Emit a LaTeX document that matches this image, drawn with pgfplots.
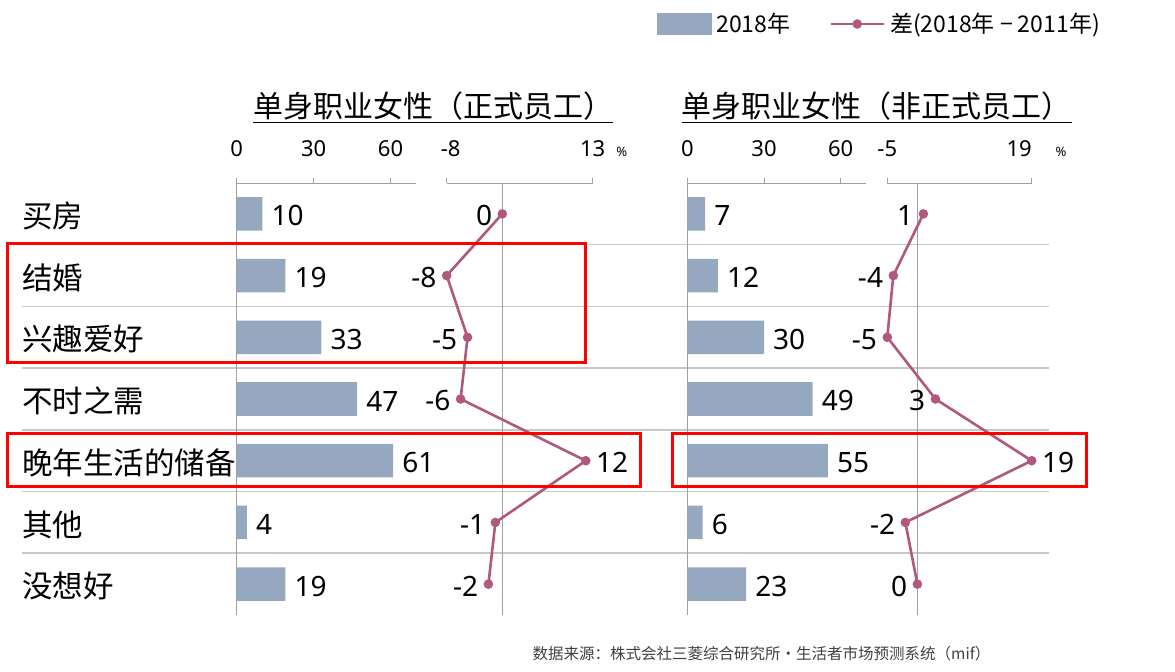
\documentclass[border=0pt]{standalone}
\usepackage{fontspec}
\setmainfont{Noto Sans CJK SC}
\newfontfamily\numfont{Noto Sans}
\usepackage{pgfplots}
\pgfplotsset{compat=1.18}

\definecolor{barcol}{RGB}{150,168,192}
\definecolor{linecol}{RGB}{176,88,125}
\definecolor{axisgray}{RGB}{160,160,160}
\definecolor{sepgray}{RGB}{200,200,200}
\definecolor{srcgray}{RGB}{64,64,64}

\newcommand\fs[1]{\fontsize{#1bp}{#1bp}\selectfont}

% filled dot of fixed radius
\pgfdeclareplotmark{bigdot}{\pgfpathcircle{\pgfpointorigin}{4.8bp}\pgfusepathqfill}

\pgfplotsset{
  panel/.style={
    scale only axis, height=432bp, ymin=0.5, ymax=7.5, clip=false,
    axis x line*=top, tick align=outside, major tick length=5bp,
    axis line style={axisgray, line width=0.8bp},
    xtick style={axisgray, line width=0.8bp},
    ytick style={draw=none},
    xticklabel style={font=\numfont\fs{22}, text=black, anchor=base, yshift=21.3bp},
    /pgf/number format/assume math mode=true,
    point meta=x,
    nodes near coords={\pgfmathprintnumber{\pgfplotspointmeta}},
    every node near coord/.append style={font=\numfont\fs{28}, text=black,
      inner xsep=9bp, inner ysep=0pt, yshift=-2bp},
  },
  bars/.style={panel, xmin=0, xmax=70, width=179.5bp,
    xtick={0,30,60}, xticklabels={0,30,60}, axis y line*=left,
    every node near coord/.append style={anchor=west}},
  diffs/.style={panel, axis y line*=middle, ytick=\empty},
  barplot/.style={xbar, bar width=33.5bp, fill=barcol, draw=none},
  diffplot/.style={color=linecol, line width=2.6bp, mark=bigdot,
    visualization depends on={value \thisrow{anc}\as\anc},
    every node near coord/.append style={anchor=\anc}},
  difflegend/.style={legend image code/.code={%
    \draw[mark repeat=2, mark phase=2, ##1] plot coordinates {(0bp,0bp) (26.5bp,0bp) (53bp,0bp)};}},
  barlegend/.style={legend image code/.code={%
    \fill[barcol] (0bp,-10.5bp) rectangle (54bp,10.5bp);}},
}

\begin{document}
\begin{tikzpicture}
\useasboundingbox (0bp,0bp) rectangle (1175bp,672bp);

% row separators
\foreach \yy in {427.3,365.6,303.9,242.1,180.4,118.7}
  \draw[sepgray, line width=1.6bp] (22bp,\yy bp) -- (1049bp,\yy bp);

% titles
\node[font=\fs{30}, anchor=base west, inner sep=0pt] (t1) at (253bp,554.4bp) {单身职业女性（正式员工）};
\draw[line width=1.4bp] ([yshift=-4.7bp]t1.base west) -- ([yshift=-4.7bp]t1.base east);
\node[font=\fs{30}, anchor=base west, inner sep=0pt] (t2) at (681.7bp,554.4bp) {单身职业女性（非正式员工）};
\draw[line width=1.4bp] ([yshift=-4.7bp]t2.base west) -- ([yshift=-4.7bp]t2.base east);

% left panel: bars 2018
\begin{axis}[bars, at={(236.7bp,57bp)}, anchor=south west,
  ytick={1,...,7},
  yticklabels={没想好,其他,晚年生活的储备,不时之需,兴趣爱好,结婚,买房},
  yticklabel style={font=\fs{30.5}, anchor=west, inner sep=0pt, xshift=-209.7bp, yshift=-2bp}]
\addplot[barplot] table[x=v, y=r] {
r v
7 10
6 19
5 33
4 47
3 61
2 4
1 19
};
\end{axis}

% left panel: difference
\begin{axis}[diffs, at={(446.7bp,57bp)}, anchor=south west, width=146bp,
  xmin=-8, xmax=13, xtick={-8,13},
  xticklabels={\hspace*{8bp}-8,{13\rlap{\hspace{11bp}\fs{13}\%}}}]
\addplot[diffplot] table[x=v, y=r] {
r v anc
7 0 east
6 -8 east
5 -5 east
4 -6 east
3 12 west
2 -1 east
1 -2 east
};
\end{axis}

% right panel: bars 2018
\begin{axis}[bars, at={(687.3bp,57bp)}, anchor=south west, width=179bp, ytick=\empty]
\addplot[barplot] table[x=v, y=r] {
r v
7 7
6 12
5 30
4 49
3 55
2 6
1 23
};
\end{axis}

% right panel: difference, with legend
\begin{axis}[diffs, at={(887.3bp,57bp)}, anchor=south west, width=144.4bp,
  xmin=-5, xmax=19, xtick={-5,19},
  xticklabels={-5,{\llap{19}\rlap{\hspace{24bp}\fs{13}\%}}},
  legend style={at={(-1.595,1.368)}, anchor=west, draw=none, fill=none,
    inner sep=0pt, outer sep=0pt, font=\fs{23}, legend columns=-1,
    /tikz/every even column/.append style={column sep=34bp},
    nodes={inner xsep=5bp, inner ysep=0pt}}]
\addlegendimage{barlegend}
\addlegendentry{2018年}
\addplot[diffplot, difflegend] table[x=v, y=r] {
r v anc
7 1 east
6 -4 east
5 -5 east
4 3 east
3 19 west
2 -2 east
1 0 east
};
\addlegendentry{差(2018年 − 2011年)}
\end{axis}

% highlight boxes
\draw[red, line width=3bp] (7.5bp,428.7bp) rectangle (585.7bp,309.3bp);
\draw[red, line width=3bp] (7.5bp,238bp) rectangle (640bp,185.5bp);
\draw[red, line width=3bp] (672.7bp,238bp) rectangle (1086bp,185.5bp);

% source
\node[font=\fs{15.5}, text=srcgray] at (761.5bp,18bp) {数据来源：株式会社三菱综合研究所・生活者市场预测系统（mif）};
\end{tikzpicture}
\end{document}
